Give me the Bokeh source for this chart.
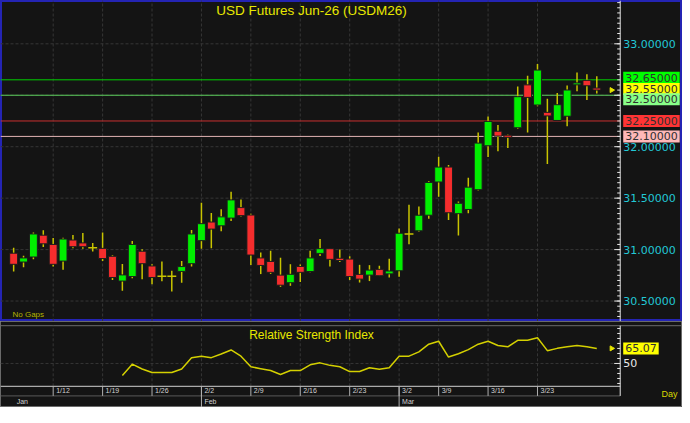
import numpy as np
from bokeh.plotting import figure
from bokeh.models import Range1d, Label
from bokeh.layouts import column
from bokeh.embed import file_html
from bokeh.resources import INLINE
from bokeh.core.properties import value

# ---------------- data ----------------
title_text = "USD Futures Jun-26 (USDM26)"
rsi_title = "Relative Strength Index"

opens = [30.965, 30.879, 30.928, 31.140, 31.050, 30.888, 31.093, 31.065, 31.019, 31.012,
         30.935, 30.694, 30.738, 30.984, 30.841, 30.741, 30.741, 30.788, 30.863, 31.087,
         31.268, 31.231, 31.306, 31.408, 31.336, 30.919, 30.885, 30.752, 30.678, 30.836,
         30.787, 30.963, 31.009, 30.916, 30.908, 30.759, 30.752, 30.808, 30.764, 30.794,
         31.152, 31.182, 31.334, 31.657, 31.802, 31.349, 31.390, 31.582, 32.009, 32.150,
         32.112, 32.184, 32.601, 32.405, 32.334, 32.255, 32.296, 32.601, 32.645, 32.570]
highs = [31.019, 30.941, 31.165, 31.187, 31.112, 31.115, 31.143, 31.162, 31.065, 31.165,
         30.944, 30.860, 31.084, 31.003, 30.857, 30.885, 30.794, 30.888, 31.190, 31.455,
         31.355, 31.393, 31.561, 31.486, 31.349, 30.972, 30.988, 30.921, 30.858, 30.855,
         30.988, 31.103, 31.009, 31.002, 30.935, 30.852, 30.849, 30.843, 30.910, 31.204,
         31.437, 31.419, 31.665, 31.903, 31.821, 31.468, 31.698, 32.137, 32.293, 32.212,
         32.119, 32.586, 32.689, 32.804, 32.467, 32.521, 32.595, 32.720, 32.704, 32.685]
lows = [30.788, 30.829, 30.907, 31.025, 30.835, 30.804, 31.012, 31.007, 30.981, 30.888,
        30.704, 30.601, 30.722, 30.713, 30.664, 30.692, 30.592, 30.679, 30.835, 31.007,
        31.012, 31.178, 31.278, 31.322, 30.850, 30.762, 30.764, 30.638, 30.648, 30.685,
        30.779, 30.937, 30.836, 30.880, 30.704, 30.680, 30.694, 30.743, 30.729, 30.736,
        31.053, 31.173, 31.299, 31.514, 31.287, 31.138, 31.352, 31.575, 31.900, 31.956,
        31.988, 32.175, 32.137, 32.393, 31.832, 32.252, 32.199, 32.539, 32.455, 32.517]
closes = [30.857, 30.919, 31.152, 31.056, 30.857, 31.103, 31.028, 31.028, 31.019, 30.913,
          30.729, 30.754, 31.050, 30.863, 30.729, 30.741, 30.741, 30.835, 31.152, 31.252,
          31.199, 31.318, 31.483, 31.330, 30.947, 30.846, 30.779, 30.654, 30.760, 30.779,
          30.919, 31.009, 30.905, 30.894, 30.738, 30.713, 30.801, 30.746, 30.792, 31.159,
          31.152, 31.334, 31.652, 31.802, 31.358, 31.450, 31.607, 32.035, 32.246, 32.103,
          32.091, 32.486, 32.479, 32.745, 32.299, 32.408, 32.551, 32.620, 32.592, 32.550]
rsi = [None, None, None, None, None, None, None, None, None, None, None,
       38.0, 49.3, 44.5, 40.9, 40.9, 40.9, 44.5, 55.6, 57.3, 55.8,
       59.5, 63.5, 57.3, 46.7, 44.8, 42.9, 39.0, 42.9, 42.9, 48.6,
       50.6, 48.1, 46.7, 41.9, 41.9, 45.7, 44.2, 45.7, 57.3, 57.3,
       61.6, 69.3, 72.2, 56.4, 59.7, 63.8, 69.3, 72.2, 68.0, 66.7,
       73.2, 73.2, 75.7, 62.8, 65.1, 66.7, 68.0, 66.7, 65.07]

week_pos = [4, 9, 14, 19, 24, 29, 34, 39, 43, 48, 53]
week_labels = ["1/12", "1/19", "1/26", "2/2", "2/9", "2/16", "2/23", "3/2", "3/9", "3/16", "3/23"]
month_pos = [0, 19, 39]
month_labels = ["Jan", "Feb", "Mar"]

price_ticks = [30.5, 31.0, 31.5, 32.0, 33.0]
grid_prices = [30.5, 31.0, 31.5, 32.0, 32.5, 33.0]
level_prices = [32.65, 32.50, 32.25, 32.10]
level_colors = ["#00d000", "#5ccf5c", "#c83030", "#e2b4b4"]
tag_prices = [32.65, 32.55, 32.50, 32.25, 32.10]
tag_colors = ["#00ff00", "#ffff00", "#88ff88", "#ff3434", "#ffb8b8"]
tag_offsets = [2, 1, -4, 0, 0]
rsi_ticks = [50]
rsi_minor = [30, 35, 40, 45, 55, 60, 65, 70, 75, 80, 85]
rsi_last = 65.07

# ---------------- style / geometry ----------------
BG = "#141414"
GREEN = "#00ee00"
RED = "#f52d2d"
WICK = "#c8c400"
YEL = "#e8e800"
CYAN = "#22c8d6"
GRID = "#363636"
AXIS = "#e6e6e6"
FONT = "Liberation Sans"
NFONT = "DejaVu Sans"
W = 682
A_H = 321
B_H = 86
X0, X1 = -1.3305, 67.672          # horizontal data range (candle index units)
AXX = 61.37                        # x position of the right-hand price axis
YA0, YA1 = 30.3012, 33.4208        # price range of the main panel
YB0, YB1 = 5.96, 91.96             # value range of the lower panel
AX_Y, SEP_Y, TOP_Y = 27.16, 17.56, 87.76
PX = (X1 - X0) / W                 # data units per pixel horizontally

n = len(opens)
xs = list(range(n))


def seg_h(p, ys, color, dash="solid", x0=X0, x1=AXX):
    p.segment(x0=[x0] * len(ys), x1=[x1] * len(ys), y0=ys, y1=ys,
              line_color=color, line_dash=dash, line_width=1)


# ---------------- main price panel ----------------
pA = figure(width=W, height=A_H, output_backend="svg", toolbar_location=None,
            x_range=Range1d(X0, X1), y_range=Range1d(YA0, YA1),
            x_axis_type=None, y_axis_type=None,
            min_border_left=0, min_border_right=0, min_border_top=0, min_border_bottom=0,
            background_fill_color=BG, border_fill_color=BG,
            outline_line_color="#2424b4", outline_line_width=3)
pA.xgrid.visible = False
pA.ygrid.visible = False

seg_h(pA, grid_prices, GRID, "3 2")
pA.segment(x0=week_pos, x1=week_pos, y0=[YA0] * len(week_pos), y1=[YA1] * len(week_pos),
           line_color=GRID, line_dash="3 2")
for lv, lc in zip(level_prices, level_colors):
    seg_h(pA, [lv], lc)

pA.segment(x0=xs, y0=lows, x1=xs, y1=highs, line_color=WICK, line_width=1.5)
bx = [i for i in xs if opens[i] != closes[i]]
pA.vbar(x=bx, width=0.8,
        top=[max(opens[i], closes[i]) for i in bx],
        bottom=[min(opens[i], closes[i]) for i in bx],
        fill_color=[GREEN if closes[i] > opens[i] else RED for i in bx],
        line_color="#1c1c1c", line_width=1)
dx = [i for i in xs if opens[i] == closes[i]]
pA.segment(x0=[i - 0.45 for i in dx], x1=[i + 0.45 for i in dx],
           y0=[opens[i] for i in dx], y1=[opens[i] for i in dx],
           line_color=WICK, line_width=1.5)
pA.scatter(x=[n + 0.5], y=[closes[-1]], marker="triangle", angle=-np.pi / 2,
           size=5, color=YEL)

# right-hand price scale
pA.segment(x0=[AXX], x1=[AXX], y0=[YA0], y1=[YA1], line_color=AXIS, line_width=1)
minor = [round(v, 2) for v in np.arange(30.30, 33.45, 0.05)]
pA.segment(x0=[AXX - 3 * PX] * len(minor), x1=[AXX] * len(minor), y0=minor, y1=minor,
           line_color=AXIS, line_width=1)
pA.segment(x0=[AXX - 6 * PX] * len(grid_prices), x1=[AXX] * len(grid_prices),
           y0=grid_prices, y1=grid_prices, line_color=AXIS, line_width=1)
pA.text(x=[AXX] * len(price_ticks), y=price_ticks, text=[f"{v:.5f}" for v in price_ticks],
        x_offset=3, text_baseline="middle", text_align="left",
        text_font=value(NFONT), text_font_size="11px", text_color=CYAN)
for tp, tc, to in zip(tag_prices, tag_colors, tag_offsets):
    pA.add_layout(Label(x=AXX, y=tp, x_offset=3, y_offset=to, text=f"{tp:.5f}",
                        text_baseline="middle", text_align="left",
                        text_font=NFONT, text_font_size="11px", text_color="#303030",
                        background_fill_color=tc, padding=2))

pA.add_layout(Label(x=311, y=A_H - 2, x_units="screen", y_units="screen", text=title_text,
                    text_align="center", text_baseline="top", text_font=FONT,
                    text_font_size="13.5px", text_color=YEL))
pA.add_layout(Label(x=12, y=3, x_units="screen", y_units="screen", text="No Gaps",
                    text_align="left", text_baseline="bottom", text_font=FONT,
                    text_font_size="8px", text_color="#b4b400"))

# ---------------- RSI panel + date scale ----------------
pB = figure(width=W, height=B_H, output_backend="svg", toolbar_location=None,
            x_range=pA.x_range, y_range=Range1d(YB0, YB1),
            x_axis_type=None, y_axis_type=None,
            min_border_left=0, min_border_right=0, min_border_top=0, min_border_bottom=0,
            background_fill_color=BG, border_fill_color=BG,
            outline_line_color="#6a6a6a", outline_line_width=1)
pB.xgrid.visible = False
pB.ygrid.visible = False

seg_h(pB, [TOP_Y], "#6a6a6a", x0=X0, x1=X1)
pB.segment(x0=week_pos, x1=week_pos, y0=[AX_Y] * len(week_pos), y1=[TOP_Y] * len(week_pos),
           line_color=GRID, line_dash="3 2")
seg_h(pB, rsi_ticks, GRID, "3 2")

rx = [i for i in xs if rsi[i] is not None]
pB.line(x=rx, y=[rsi[i] for i in rx], line_color="#d4d000", line_width=1.5)
pB.scatter(x=[n + 0.5], y=[rsi_last], marker="triangle", angle=-np.pi / 2, size=5, color=YEL)

# date scale
seg_h(pB, [AX_Y], "#d0d0d0")
seg_h(pB, [SEP_Y], "#5a5a5a")
pB.segment(x0=week_pos, x1=week_pos, y0=[AX_Y] * len(week_pos), y1=[SEP_Y] * len(week_pos),
           line_color="#b0b0b0", line_width=1)
pB.segment(x0=month_pos[1:], x1=month_pos[1:], y0=[AX_Y] * 2, y1=[YB0] * 2,
           line_color="#b0b0b0", line_width=1)
pB.text(x=week_pos, y=[26.5] * len(week_pos), text=week_labels, x_offset=3,
        text_baseline="top", text_align="left", text_font=value(FONT),
        text_font_size="7px", text_color="#d2d2d2")
pB.text(x=month_pos, y=[15.7] * len(month_pos), text=month_labels, x_offset=3,
        text_baseline="top", text_align="left", text_font=value(FONT),
        text_font_size="7px", text_color="#d2d2d2")

# right-hand RSI scale
pB.segment(x0=[AXX], x1=[AXX], y0=[SEP_Y], y1=[TOP_Y], line_color=AXIS, line_width=1)
pB.segment(x0=[AXX - 3 * PX] * len(rsi_minor), x1=[AXX] * len(rsi_minor),
           y0=rsi_minor, y1=rsi_minor, line_color=AXIS, line_width=1)
pB.segment(x0=[AXX - 6 * PX] * len(rsi_ticks), x1=[AXX] * len(rsi_ticks),
           y0=rsi_ticks, y1=rsi_ticks, line_color=AXIS, line_width=1)
pB.text(x=[AXX] * len(rsi_ticks), y=rsi_ticks, text=[str(v) for v in rsi_ticks],
        x_offset=3, text_baseline="middle", text_align="left",
        text_font=value(NFONT), text_font_size="11px", text_color="#e8e8e8")
pB.add_layout(Label(x=AXX, y=rsi_last, x_offset=3, text=f"{rsi_last:.2f}",
                    text_baseline="middle", text_align="left", text_font=NFONT,
                    text_font_size="11px", text_color="#303030",
                    background_fill_color="#ffff00", padding=2))
pB.add_layout(Label(x=311, y=B_H - 6, x_units="screen", y_units="screen", text=rsi_title,
                    text_align="center", text_baseline="top", text_font=FONT,
                    text_font_size="12px", text_color=YEL))
pB.add_layout(Label(x=661, y=9, x_units="screen", y_units="screen", text="Day",
                    text_align="left", text_baseline="bottom", text_font=FONT,
                    text_font_size="9px", text_color="#d8d800"))

layout = column(pA, pB, spacing=0)
open("out.html", "w").write(file_html(layout, INLINE))
